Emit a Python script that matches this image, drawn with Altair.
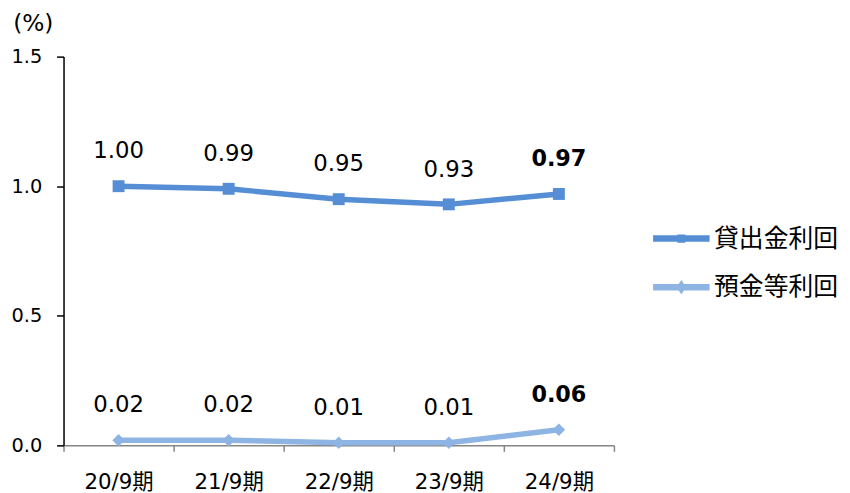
import altair as alt
import pandas as pd

periods = ["20/9期", "21/9期", "22/9期", "23/9期", "24/9期"]
series_names = ["貸出金利回", "預金等利回"]
loan_yield = [1.00, 0.99, 0.95, 0.93, 0.97]
deposit_yield = [0.02, 0.02, 0.01, 0.01, 0.06]
y_ticks = [0.0, 0.5, 1.0, 1.5]

colors = ["#558ED5", "#8EB4E3"]

rows = []
for p, v in zip(periods, loan_yield):
    rows.append({"period": p, "series": series_names[0], "value": v})
for p, v in zip(periods, deposit_yield):
    rows.append({"period": p, "series": series_names[1], "value": v})
df = pd.DataFrame(rows)

FONT = "DejaVu Sans, Noto Sans CJK JP"

x_enc = alt.X(
    "period:N",
    sort=periods,
    bandPosition=0.5,
    scale=alt.Scale(type="band", paddingInner=0, paddingOuter=0),
    axis=alt.Axis(
        title=None, labelAngle=0, labelFont=FONT, labelFontSize=21.5,
        labelColor="#000000", tickBand="extent", tickSize=6,
        tickColor="#868686", domainColor="#868686", labelPadding=20,
        domainWidth=1.5, tickWidth=1.5,
    ),
)
y_enc = alt.Y(
    "value:Q",
    scale=alt.Scale(domain=[0, 1.5], nice=False, zero=True),
    axis=alt.Axis(
        values=y_ticks, format=".1f", grid=False, labelFont=FONT,
        labelFontSize=19.5, labelColor="#000000", tickSize=7,
        tickColor="#000000", domainColor="#000000", labelPadding=15,
        domainWidth=1.5, tickWidth=1.5,
        title="(%)", titleAngle=0, titleX=-31, titleY=-33,
        titleAlign="center", titleBaseline="middle", titleFont=FONT,
        titleFontSize=23.5, titleFontWeight="normal", titleColor="#000000",
    ),
)

color_scale = alt.Scale(domain=series_names, range=colors)

legend_paths = [
    "M-1,-0.33H4.7V0.33H-1Z M1.45,-0.42H2.25V0.42H1.45Z",
    "M-1,-0.33H4.7V0.33H-1Z M1.85,-0.72L2.35,0L1.85,0.72L1.35,0Z",
]
leg = alt.Legend(
    title=None, orient="none", legendX=592, legendY=171,
    labelFont="Noto Sans CJK JP", labelFontSize=25, labelColor="#000000",
    symbolSize=400, labelOffset=39, rowPadding=23, padding=0,
    symbolStrokeWidth=0, symbolOpacity=1, labelLimit=200,
)
color_enc = alt.Color("series:N", scale=color_scale, legend=leg)

base = alt.Chart(df)

legend_layer = base.mark_point(filled=True, opacity=1, size=0).encode(
    x=x_enc, y=y_enc,
    color=color_enc,
    shape=alt.Shape("series:N", scale=alt.Scale(domain=series_names, range=legend_paths), legend=leg),
)

lines = base.mark_line(strokeWidth=5.5).encode(
    x=x_enc, y=y_enc,
    color=color_enc,
    detail="series:N",
)

squares = base.transform_filter(alt.datum.series == series_names[0]).mark_point(
    filled=True, opacity=1, size=144, shape="square"
).encode(
    x=x_enc, y=y_enc,
    color=color_enc,
)
diamonds = base.transform_filter(alt.datum.series == series_names[1]).mark_point(
    filled=True, opacity=1, size=160, shape="diamond"
).encode(
    x=x_enc, y=y_enc,
    color=color_enc,
)

labels_normal = base.transform_filter(alt.datum.period != periods[-1]).mark_text(
    dy=-35, fontSize=23, font=FONT, color="#000000", baseline="middle"
).encode(
    x=x_enc, y=y_enc,
    text=alt.Text("value:Q", format=".2f"),
)
labels_bold = base.transform_filter(alt.datum.period == periods[-1]).mark_text(
    dy=-35, fontSize=22.5, font=FONT, color="#000000", baseline="middle", fontWeight="bold"
).encode(
    x=x_enc, y=y_enc,
    text=alt.Text("value:Q", format=".2f"),
)

chart = alt.layer(legend_layer, lines, squares, diamonds, labels_normal, labels_bold).properties(
    width=555, height=392,
    autosize=alt.AutoSizeParams(type="none"),
    padding={"left": 56, "top": 47, "right": 230, "bottom": 46},
).configure_view(stroke=None)

chart.save("out.html", embed_options={"renderer": "svg", "actions": False})
